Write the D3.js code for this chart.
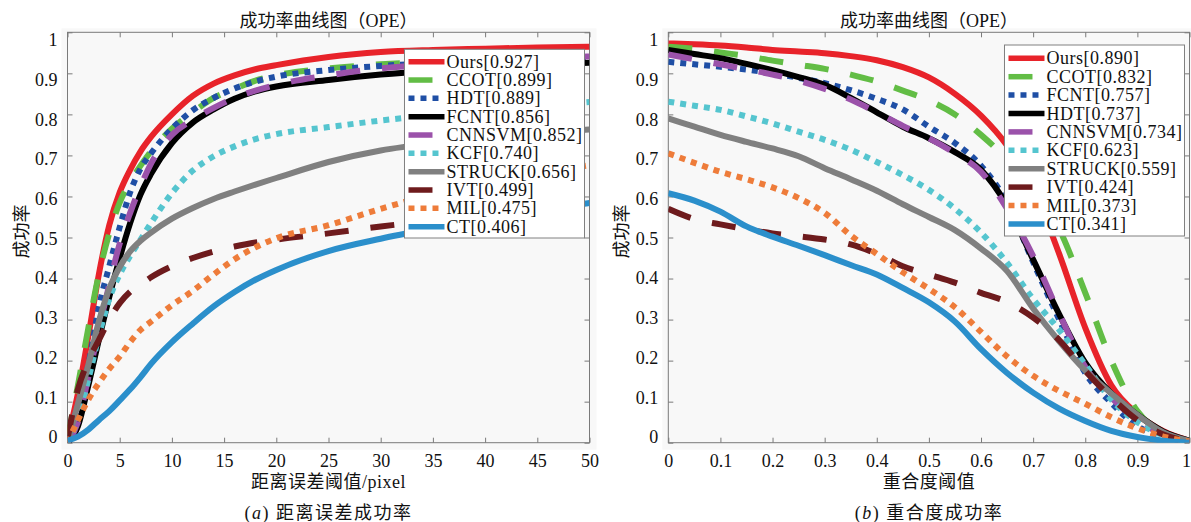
<!DOCTYPE html>
<html>
<head>
<meta charset="utf-8">
<script src="https://cdn.jsdelivr.net/npm/d3@7"></script>
<style>
body{margin:0;background:#fff;}
text{font-family:"Liberation Serif","Times New Roman","Noto Sans CJK SC",serif;fill:#111;}
</style>
</head>
<body>
<div id="chart"></div>
<script>
// ---- data: (a) distance-error precision ----
const errX = [0,1,2,3,4,5,6,7,8,10,12,14,16,18,20,25,30,35,40,45,50];
const precNames = ["Ours[0.927]","CCOT[0.899]","HDT[0.889]","FCNT[0.856]","CNNSVM[0.852]","KCF[0.740]","STRUCK[0.656]","IVT[0.499]","MIL[0.475]","CT[0.406]"];
const precOurs   = [0.01,0.12,0.26,0.41,0.53,0.61,0.665,0.71,0.745,0.80,0.845,0.875,0.895,0.91,0.92,0.94,0.952,0.957,0.96,0.963,0.965];
const precCCOT   = [0.01,0.14,0.28,0.41,0.51,0.585,0.635,0.675,0.71,0.765,0.805,0.84,0.862,0.882,0.895,0.912,0.922,0.928,0.933,0.937,0.94];
const precHDT    = [0.005,0.09,0.19,0.33,0.43,0.525,0.61,0.668,0.705,0.765,0.81,0.84,0.863,0.88,0.892,0.908,0.918,0.925,0.93,0.933,0.936];
const precFCNT   = [0,0.04,0.14,0.25,0.355,0.45,0.535,0.605,0.655,0.73,0.78,0.812,0.838,0.856,0.868,0.884,0.897,0.907,0.915,0.921,0.926];
const precCNNSVM = [0,0.05,0.16,0.275,0.385,0.485,0.56,0.625,0.68,0.75,0.787,0.816,0.84,0.858,0.872,0.895,0.912,0.922,0.93,0.936,0.941];
const precKCF    = [0,0.06,0.155,0.26,0.35,0.41,0.455,0.495,0.535,0.608,0.663,0.698,0.722,0.74,0.752,0.769,0.785,0.798,0.81,0.82,0.83];
const precSTRUCK = [0,0.095,0.19,0.295,0.375,0.428,0.466,0.492,0.512,0.546,0.572,0.594,0.612,0.629,0.645,0.684,0.712,0.73,0.743,0.754,0.763];
const precIVT    = [0.01,0.13,0.2,0.25,0.3,0.34,0.368,0.385,0.403,0.43,0.45,0.466,0.478,0.488,0.495,0.51,0.527,0.54,0.55,0.561,0.571];
const precMIL    = [0,0.055,0.105,0.145,0.18,0.21,0.245,0.275,0.295,0.335,0.37,0.41,0.447,0.476,0.498,0.53,0.57,0.605,0.633,0.656,0.676];
const precCT     = [0.005,0.015,0.032,0.055,0.077,0.103,0.13,0.16,0.192,0.245,0.29,0.332,0.367,0.397,0.421,0.467,0.497,0.522,0.545,0.566,0.584];

// ---- data: (b) overlap success ----
const overlapX = [0,0.05,0.1,0.15,0.2,0.25,0.3,0.35,0.4,0.45,0.5,0.55,0.6,0.65,0.7,0.75,0.8,0.85,0.9,0.95,1];
const succNames = ["Ours[0.890]","CCOT[0.832]","FCNT[0.757]","HDT[0.737]","CNNSVM[0.734]","KCF[0.623]","STRUCK[0.559]","IVT[0.424]","MIL[0.373]","CT[0.341]"];
const succOurs   = [0.973,0.971,0.968,0.963,0.957,0.953,0.949,0.942,0.932,0.915,0.89,0.85,0.797,0.724,0.62,0.46,0.28,0.14,0.07,0.028,0.005];
const succCCOT   = [0.965,0.96,0.951,0.942,0.931,0.921,0.911,0.897,0.88,0.858,0.834,0.80,0.75,0.69,0.615,0.52,0.365,0.20,0.077,0.025,0.005];
const succFCNT   = [0.928,0.922,0.916,0.909,0.90,0.889,0.876,0.859,0.838,0.812,0.77,0.73,0.675,0.585,0.44,0.30,0.17,0.097,0.04,0.015,0.003];
const succHDT    = [0.957,0.947,0.937,0.923,0.908,0.891,0.872,0.84,0.805,0.77,0.742,0.708,0.665,0.578,0.446,0.313,0.195,0.12,0.068,0.027,0.005];
const succCNNSVM = [0.946,0.934,0.922,0.91,0.897,0.882,0.862,0.836,0.805,0.772,0.742,0.705,0.66,0.57,0.455,0.315,0.185,0.11,0.055,0.02,0.004];
const succKCF    = [0.831,0.821,0.811,0.795,0.778,0.758,0.738,0.714,0.684,0.652,0.616,0.57,0.512,0.438,0.35,0.275,0.19,0.105,0.05,0.018,0.003];
const succSTRUCK = [0.79,0.77,0.75,0.733,0.717,0.698,0.669,0.642,0.614,0.581,0.55,0.518,0.473,0.418,0.327,0.247,0.176,0.12,0.068,0.025,0.004];
const succIVT    = [0.57,0.545,0.532,0.52,0.51,0.503,0.495,0.483,0.46,0.43,0.41,0.39,0.365,0.343,0.305,0.25,0.175,0.11,0.055,0.02,0.003];
const succMIL    = [0.705,0.682,0.66,0.642,0.622,0.596,0.56,0.505,0.46,0.415,0.375,0.33,0.27,0.21,0.163,0.126,0.095,0.062,0.035,0.015,0.003];
const succCT     = [0.608,0.59,0.563,0.527,0.502,0.48,0.457,0.433,0.41,0.377,0.342,0.295,0.228,0.17,0.122,0.083,0.053,0.029,0.014,0.005,0];

const yTicks = [0,0.1,0.2,0.3,0.4,0.5,0.6,0.7,0.8,0.9,1];
const errTicks = [0,5,10,15,20,25,30,35,40,45,50];
const overlapTicks = [0,0.1,0.2,0.3,0.4,0.5,0.6,0.7,0.8,0.9,1];

// line style by legend position (same in both panels)
const styles = [
    {color:"#e8232a", dash:null},
    {color:"#62bd45", dash:"24,22"},
    {color:"#1f4fa5", dash:"6,6"},
    {color:"#000000", dash:null},
    {color:"#9b52aa", dash:"24,22"},
    {color:"#55c5cf", dash:"6,6"},
    {color:"#808080", dash:null},
    {color:"#6e1b1d", dash:"24,22"},
    {color:"#ee7c3a", dash:"6,6"},
    {color:"#2b8fcb", dash:null}
];

let svg = d3.select("#chart").append("svg")
    .attr("width", 1191)
    .attr("height", 522);

const plotTop = 32.3, plotBottom = 442.7;

function drawPanel(p){
    let x = d3.scaleLinear().domain(p.domain).range([p.left, p.right]);
    let y = d3.scaleLinear().domain([0,1]).range([plotBottom, plotTop]);
    let g = svg.append("g");

    //light figure background
    g.append("rect")
        .attr("x", p.left-6).attr("y", plotTop-4)
        .attr("width", p.right-p.left+13).attr("height", plotBottom-plotTop+11)
        .attr("fill", "#f8f8f8");

    g.append("clipPath").attr("id", "clip"+p.id)
        .append("rect")
        .attr("x", p.left).attr("y", plotTop)
        .attr("width", p.right-p.left).attr("height", plotBottom-plotTop);

    //axes with inward ticks on all sides
    let axisColor = "#7a7a7a";
    let bx = g.append("g")
        .attr("transform", "translate(0," + plotBottom + ")")
        .call(d3.axisBottom(x).tickValues(p.ticks).tickSizeInner(-5).tickSizeOuter(0).tickPadding(12).tickFormat(d => String(d)));
    let tx = g.append("g")
        .attr("transform", "translate(0," + plotTop + ")")
        .call(d3.axisTop(x).tickValues(p.ticks).tickSizeInner(-5).tickSizeOuter(0).tickFormat(""));
    let ly = g.append("g")
        .attr("transform", "translate(" + p.left + ",0)")
        .call(d3.axisLeft(y).tickValues(yTicks).tickSizeInner(-5).tickSizeOuter(0).tickPadding(10).tickFormat(d => String(d)));
    let ry = g.append("g")
        .attr("transform", "translate(" + p.right + ",0)")
        .call(d3.axisRight(y).tickValues(yTicks).tickSizeInner(-5).tickSizeOuter(0).tickFormat(""));
    [bx, tx, ly, ry].forEach(a => {
        a.select(".domain").remove();
        a.selectAll("line").attr("stroke", axisColor);
        a.selectAll("text").style("font-size", "18px").attr("fill", "#111");
    });
    //labels of y ticks sit a little off the ticks in the original figure
    ly.selectAll(".tick text").attr("transform", d => "translate(0," + (-5.7 + 13.4*d) + ")");
    //keep the last x label inside the page
    if (p.right > 1180) {
        bx.selectAll(".tick text").filter(d => d === p.domain[1])
            .attr("text-anchor", "end").attr("dx", 1);
    }

    g.append("rect")
        .attr("x", p.left).attr("y", plotTop)
        .attr("width", p.right-p.left).attr("height", plotBottom-plotTop)
        .attr("fill", "none").attr("stroke", axisColor).attr("stroke-width", 1);

    //curves
    let line = d3.line()
        .x((d, i) => x(p.xs[i]))
        .y(d => y(d))
        .curve(d3.curveMonotoneX);
    g.append("g").attr("clip-path", "url(#clip" + p.id + ")")
        .selectAll("path")
        .data(p.series)
        .enter().append("path")
        .attr("d", line)
        .attr("fill", "none")
        .attr("stroke", (d, i) => styles[i].color)
        .attr("stroke-width", 6)
        .attr("stroke-dasharray", (d, i) => styles[i].dash)
        .attr("stroke-linejoin", "round");

    //legend, box sized to the longest entry
    let lg = g.append("g");
    let box = lg.append("rect")
        .attr("y", p.legY)
        .attr("height", p.legH)
        .attr("fill", "#fff").attr("stroke", "#808080").attr("stroke-width", 1);
    let maxLen = 0;
    let rows = p.names.map((name, i) => {
        let cy = p.legY + p.firstRow + i*p.rowH;
        let ln = lg.append("line")
            .attr("y1", cy).attr("y2", cy)
            .attr("stroke", styles[i].color)
            .attr("stroke-width", 5.5)
            .attr("stroke-dasharray", styles[i].dash);
        let t = lg.append("text")
            .attr("y", cy)
            .attr("dominant-baseline", "central")
            .style("font-size", "18px")
            .style("letter-spacing", "0.5px")
            .text(name);
        maxLen = Math.max(maxLen, t.node().getComputedTextLength());
        return [ln, t];
    });
    let legW = 42 + maxLen + 2;
    let legX = Math.min(p.legX, p.right - 5 - legW);
    box.attr("x", legX).attr("width", legW);
    rows.forEach(([ln, t]) => {
        ln.attr("x1", legX+4).attr("x2", legX+40);
        t.attr("x", legX+42);
    });

    //titles and labels
    let cx = (p.left + p.right)/2;
    g.append("text").attr("x", cx).attr("y", 20.5)
        .attr("text-anchor", "middle").attr("dominant-baseline", "central")
        .style("font-size", "18px")
        .text("成功率曲线图（OPE）");
    g.append("text").attr("x", cx).attr("y", 481.5)
        .attr("text-anchor", "middle").attr("dominant-baseline", "central")
        .style("font-size", "18px")
        .style("letter-spacing", "0.5px")
        .text(p.xlabel);
    g.append("text")
        .attr("transform", "translate(" + (p.left-46) + "," + ((plotTop+plotBottom)/2 - 6) + ") rotate(-90)")
        .attr("text-anchor", "middle").attr("dominant-baseline", "central")
        .style("font-size", "18px")
        .text("成功率");
    let cap = g.append("text").attr("x", cx).attr("y", 513)
        .attr("text-anchor", "middle").attr("dominant-baseline", "central")
        .style("font-size", "18px")
        .style("letter-spacing", "1.5px");
    cap.append("tspan").text("(");
    cap.append("tspan").style("font-style", "italic").text(p.letter);
    cap.append("tspan").text(") " + p.caption);
}

drawPanel({
    id: "a", left: 67.5, right: 589.5, domain: [0,50], ticks: errTicks, xs: errX,
    series: [precOurs, precCCOT, precHDT, precFCNT, precCNNSVM, precKCF, precSTRUCK, precIVT, precMIL, precCT],
    names: precNames,
    legX: 407.7, legY: 49.3, legH: 188.7, firstRow: 12.4, rowH: 18.33,
    xlabel: "距离误差阈值/pixel", letter: "a", caption: "距离误差成功率"
});

drawPanel({
    id: "b", left: 668.3, right: 1189.5, domain: [0,1], ticks: overlapTicks, xs: overlapX,
    series: [succOurs, succCCOT, succFCNT, succHDT, succCNNSVM, succKCF, succSTRUCK, succIVT, succMIL, succCT],
    names: succNames,
    legX: 1007.7, legY: 45, legH: 191, firstRow: 13.3, rowH: 18.4,
    xlabel: "重合度阈值", letter: "b", caption: "重合度成功率"
});
</script>
</body>
</html>
